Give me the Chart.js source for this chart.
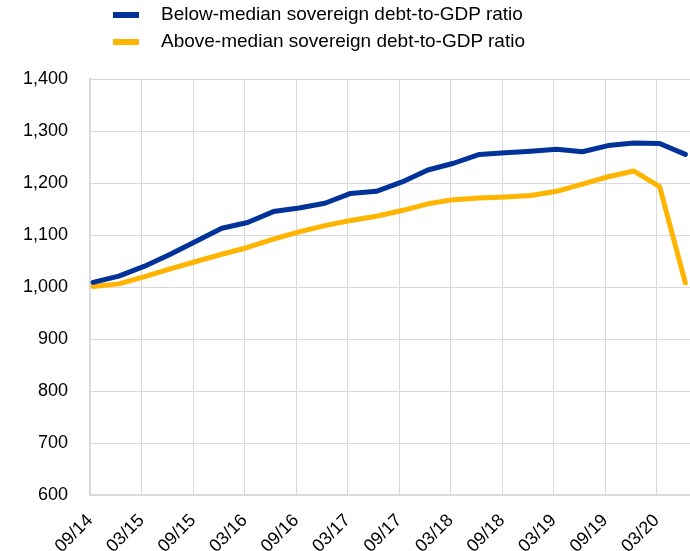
<!DOCTYPE html>
<html>
<head>
<meta charset="utf-8">
<script src="https://cdn.jsdelivr.net/npm/chart.js@4/dist/chart.umd.min.js"></script>
<style>
  html, body { margin: 0; padding: 0; background: #fff; overflow: hidden; width: 690px; height: 551px; }
  #wrap { position: relative; width: 690px; height: 590px; }
  #legend { position: absolute; left: 113px; top: 0; font-family: "Liberation Sans", Arial, sans-serif; font-size: 19px; color: #000; z-index: 2; }
  .item { position: absolute; left: 0; white-space: nowrap; height: 22px; }
  .swatch { position: absolute; left: 0; width: 26px; height: 6px; }
  .lbl { position: absolute; left: 48px; top: 0; line-height: 22px; }
</style>
</head>
<body>
<div id="wrap">
  <div id="legend"></div>
  <canvas id="c" width="690" height="590"></canvas>
</div>
<script>
// ---- data ----
const quarters = ['09/14','12/14','03/15','06/15','09/15','12/15','03/16','06/16','09/16','12/16',
                  '03/17','06/17','09/17','12/17','03/18','06/18','09/18','12/18','03/19','06/19',
                  '09/19','12/19','03/20','06/20'];
const tickLabels = ['09/14','03/15','09/15','03/16','09/16','03/17','09/17','03/18','09/18','03/19','09/19','03/20'];
const seriesNames = ['Below-median sovereign debt-to-GDP ratio', 'Above-median sovereign debt-to-GDP ratio'];
const belowMedian = [1009,1021,1040,1063,1088,1113,1124,1145,1152,1161,1180,1184,1202,1225,1238,1255,1258,1261,1265,1260,1272,1277,1276,1255];
const aboveMedian = [1001,1006,1020,1035,1049,1063,1076,1092,1106,1118,1128,1136,1147,1160,1168,1171,1173,1176,1184,1198,1212,1223,1193,1008];
const yTicks = [600,700,800,900,1000,1100,1200,1300,1400];
const colors = ['#003299', '#FFB400'];

const FONT = '"Liberation Sans", Arial, sans-serif';
const TICK_SHIFT = -0.12; // gridlines sit slightly left of the quarterly observations

const toPoints = arr => arr.map((v, i) => ({x: i, y: v}));

// HTML legend
const legendEl = document.getElementById('legend');
seriesNames.forEach((name, k) => {
  const it = document.createElement('div');
  it.className = 'item';
  it.style.top = (3 + k * 27) + 'px';
  it.innerHTML = '<div class="swatch" style="top:9px;background:' + colors[k] + '"></div><div class="lbl"></div>';
  it.querySelector('.lbl').textContent = name;
  legendEl.appendChild(it);
});

new Chart(document.getElementById('c'), {
  type: 'line',
  data: {
    datasets: [
      { label: seriesNames[0], data: toPoints(belowMedian), borderColor: colors[0], backgroundColor: colors[0] },
      { label: seriesNames[1], data: toPoints(aboveMedian), borderColor: colors[1], backgroundColor: colors[1] }
    ]
  },
  options: {
    responsive: false,
    animation: false,
    devicePixelRatio: 1,
    layout: { padding: { top: 79, left: 23, right: 0, bottom: 0 } },
    elements: {
      line: { borderWidth: 5, tension: 0, borderCapStyle: 'round', borderJoinStyle: 'round' },
      point: { radius: 0, hoverRadius: 0 }
    },
    plugins: { legend: { display: false }, tooltip: { enabled: false } },
    scales: {
      x: {
        type: 'linear',
        min: TICK_SHIFT,
        max: quarters.length - 1 + 0.18,
        afterBuildTicks: (axis) => {
          axis.ticks = tickLabels.map((_, k) => ({ value: 2 * k + TICK_SHIFT }));
        },
        afterFit: (s) => { s.paddingRight = 0; s.paddingLeft = 0; s.height = 95; },
        ticks: {
          callback: (v, i) => tickLabels[i],
          minRotation: 45, maxRotation: 45,
          autoSkip: false,
          padding: 15,
          color: '#000',
          font: { family: FONT, size: 18 }
        },
        grid: { color: '#d9d9d9', lineWidth: 1, drawTicks: false },
        border: { color: '#d9d9d9', width: 2 }
      },
      y: {
        min: 600, max: 1400,
        afterBuildTicks: (axis) => { axis.ticks = yTicks.map(v => ({ value: v })); },
        afterFit: (s) => { s.width = 67; },
        ticks: {
          callback: v => v.toLocaleString('en-US'),
          padding: 22,
          color: '#000',
          font: { family: FONT, size: 18 }
        },
        grid: { color: '#d9d9d9', lineWidth: 1, drawTicks: false },
        border: { color: '#d9d9d9', width: 2 }
      }
    }
  }
});
</script>
</body>
</html>
